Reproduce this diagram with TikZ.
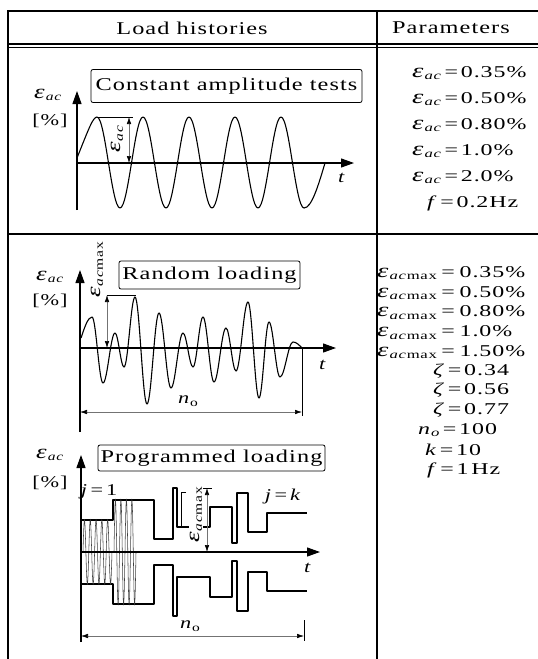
\documentclass[tikz,border=0pt]{standalone}
\usepackage{fontspec}
\setmainfont{Liberation Serif}[FakeStretch=1.35, LetterSpace=6]
\newfontfamily\parfont{Liberation Serif}[FakeStretch=1.45, LetterSpace=6]
\usetikzlibrary{arrows.meta}

\newcommand{\lowr}[1]{\raisebox{-0.35ex}{\fontsize{11.5}{13}\selectfont #1}}
\newcommand{\epsv}{\scalebox{1.2}{\textit{ε}}}
\newcommand{\eac}{\epsv\lowr{\textit{ac}}}
\newcommand{\eacmax}{\epsv\lowr{\textit{ac}max}}

\begin{document}
\begin{tikzpicture}[x=1pt,y=-1pt]
	\tikzset{rule/.style={line width=1.4pt},
		ax/.style={line width=1.2pt, -{Triangle[length=13pt,width=9pt]}},
		wave/.style={line width=1.1pt, line join=round},
		fast/.style={line width=0.55pt, black!75},
		dimarrow/.style={line width=0.6pt, black!55, {Latex[length=7pt,width=4.5pt,color=black]}-{Latex[length=7pt,width=4.5pt,color=black]}},
		tbox/.style={draw, line width=0.8pt, rounded corners=2pt, inner sep=0pt, font=\fontsize{18}{21}\selectfont},
		head/.style={font=\fontsize{18}{21}\selectfont},
		lbl/.style={font=\fontsize{16.5}{19}\selectfont, inner sep=1pt},
		prm/.style={font=\parfont\fontsize{16.5}{19}\selectfont, anchor=west, inner sep=0pt}}
	\useasboundingbox (0,0) rectangle (538,659);

	% table
	\draw[rule] (8,659) -- (8,11) -- (538,11);
	\draw[rule] (377,11) -- (377,659);
	\draw[rule] (8,44) -- (538,44);
	\draw[rule] (8,47.5) -- (538,47.5);
	\draw[rule] (8,234) -- (538,234);
	\node[head] (hl) at (192,28) {Load histories};
	\node[head] (hp) at (451,28) {Parameters};

	% constant amplitude
	\node[tbox, minimum width=271pt, minimum height=33pt] (tc) at (226.5,86) {Constant amplitude tests};
	\draw[ax] (77,210) -- (77,91);
	\draw[ax] (77,163) -- (354,163);
	\node[lbl] (ya1) at (48,95) {\eac};
	\node[lbl] (yu1) at (50,121) {[\%]};
	\node[lbl] (t1) at (342,178) {\textit{t}};
	\draw[wave] (77,158) .. controls (89,128) and (93,117) .. (97,117)
		foreach \k in {0,...,3} { cos ({108.5+46*\k},163) sin ({120+46*\k},208) cos ({131.5+46*\k},163) sin ({143+46*\k},117) }
		cos (292.5,163) sin (304,208) cos (325,163);
	\draw[thin] (97,117) -- (133,117);
	\draw[dimarrow] (129,117) -- (129,163);
	\node[lbl, rotate=90] (ea1) at (117,139) {\eac};

	\foreach \v [count=\i] in {0.35,0.50,0.80,1.0,2.0}
		\node[prm] (a\i) at (412,{47+26*\i}) {\eac\,=\,\v\%};
	\node[prm] (a6) at (427,203) {\textit{f}\,=\,0.2Hz};

	% random loading
	\node[tbox, minimum width=181pt, minimum height=28pt] (tr) at (209.5,275) {Random loading};
	\draw[ax] (80,432) -- (80,270);
	\draw[ax] (80,348) -- (336,348);
	\node[lbl] (ya2) at (50,277) {\eac};
	\node[lbl] (yu2) at (50,301) {[\%]};
	\node[lbl] (t2) at (323,365) {\textit{t}};
	\draw[wave] (81,338) sin (92,317)
		foreach \x/\y [remember=\x as \lx (initially 92), remember=\y as \ly (initially 317)] in
		{103/383,115/333,124/367,135/297,147/404,159/313,171/388,183/333,193/367,203/317,
		 214/382,226/328,236/371,248/302,259/398,269/322,280/377,293/342}
		{ cos ({(\lx+\x)/2},{(\ly+\y)/2}) sin (\x,\y) }
		cos (302,348);
	\draw[thin] (107,295) -- (136,295);
	\draw[dimarrow] (107,295) -- (107,348);
	\node[lbl, rotate=90] (ea2) at (97,270) {\eacmax};
	\draw[thin] (302,348) -- (302,416);
	\draw[dimarrow] (80,412) -- (302,412);
	\node[lbl] (n2) at (188,401) {\textit{n}\lowr{o}};

	% programmed loading
	\node[tbox, minimum width=227pt, minimum height=26pt] (tp) at (211.5,458) {Programmed loading};
	\draw[ax] (81,642) -- (81,455);
	\node[lbl] (ya3) at (50,455) {\eac};
	\node[lbl] (yu3) at (50,483) {[\%]};
	\node[lbl] (t3) at (308,568) {\textit{t}};
	\foreach \sgn in {-1,1}
		\draw[wave] (81,{552+\sgn*32})
			foreach \s/\e/\h in {81/113/32,113/154/52,154/173/13,173/177/64,177/210/25,
			                     210/232/45,232/237/9,237/248/59,248/267/20,267/307/39}
			{ -- (\s,{552+\sgn*\h}) -- (\e,{552+\sgn*\h}) };
	\draw[fast] (83,552) foreach \k in {0,...,4}
		{ sin ({84.45+5.8*\k},520) cos ({85.9+5.8*\k},552) sin ({87.35+5.8*\k},584) cos ({88.8+5.8*\k},552) };
	\draw[fast] (114,552) foreach \k in {0,...,3}
		{ sin ({115.4+5.5*\k},500) cos ({116.8+5.5*\k},552) sin ({118.1+5.5*\k},604) cos ({119.5+5.5*\k},552) };
	\draw[ax] (81,552) -- (320,552);
	\draw[thin] (186,492) -- (181,492) -- (181,527);
	\draw[thin] (201,488) -- (212,488);
	\draw[dimarrow] (207,488) -- (207,552);
	\node[lbl, rotate=90, fill=white] (ea3) at (196,515) {\eacmax};
	\node[lbl] (j1) at (99,492) {\textit{j}\,=\,1};
	\node[lbl] (jk) at (283,497) {\textit{j}\,=\,\textit{k}};
	\draw[thin] (304,620) -- (304,641);
	\draw[dimarrow] (81,636) -- (304,636);
	\node[lbl] (n3) at (190,626) {\textit{n}\lowr{o}};

	\foreach \v [count=\i] in {0.35,0.50,0.80,1.0,1.50}
		\node[prm] (m\i) at (377,{253.5+19.7*\i}) {\eacmax\;=\;\v\%};
	\foreach \v [count=\i] in {0.34,0.56,0.77}
		\node[prm] (z\i) at (433,{351+19.7*\i}) {\textit{ζ}\,=\,\v};
	\node[prm] (p9) at (418,430) {\textit{n}\lowr{\textit{o}}\,=\,100};
	\node[prm] (p10) at (425,450) {\textit{k}\,=\,10};
	\node[prm] (p11) at (427,470) {\textit{f}\,=\,1\,Hz};
\end{tikzpicture}
\end{document}
